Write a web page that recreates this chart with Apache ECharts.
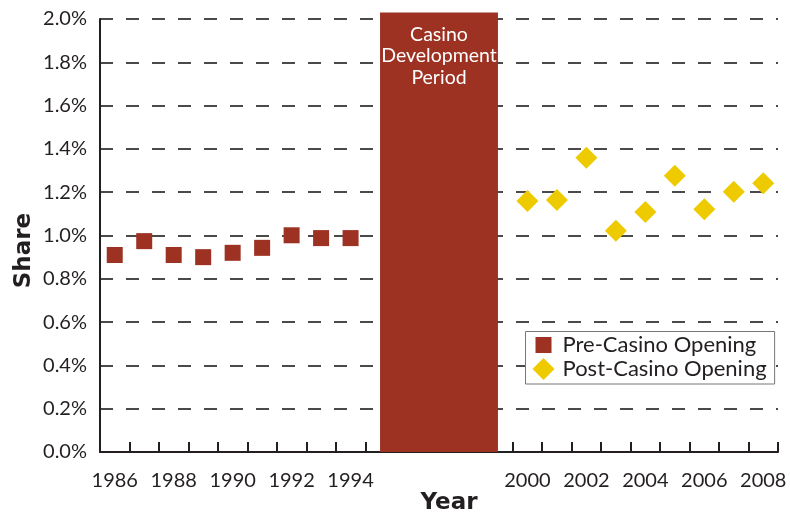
<!DOCTYPE html>
<html><head><meta charset="utf-8">
<script src="https://cdn.jsdelivr.net/npm/echarts@6/dist/echarts.min.js"></script>
<style>html,body{margin:0;padding:0;background:#fff}#c{width:790px;height:512px}</style>
</head><body><div id="c"></div>
<script>
const years = ['1986','1987','1988','1989','1990','1991','1992','1993','1994','1995','1996','1997','1998','1999','2000','2001','2002','2003','2004','2005','2006','2007','2008'];
const xTickLabels = ['1986','1988','1990','1992','1994','2000','2002','2004','2006','2008'];
const preYears = ['1986','1987','1988','1989','1990','1991','1992','1993','1994'];
const preValues = [0.910, 0.974, 0.910, 0.900, 0.920, 0.943, 1.001, 0.988, 0.988];
const postYears = ['2000','2001','2002','2003','2004','2005','2006','2007','2008'];
const postValues = [1.159, 1.164, 1.359, 1.022, 1.109, 1.276, 1.121, 1.202, 1.241];
const casinoStart = '1995';
const casinoEnd = '1999';
const casinoTop = 2.03;
const casinoLabel = 'Casino\nDevelopment\nPeriod';

const TXT = '#231f20';
const chart = echarts.init(document.getElementById('c'), null, {renderer: 'canvas'});
chart.setOption({
  animation: false,
  backgroundColor: '#fff',
  grid: {left: 100, right: 12, top: 19, bottom: 60, containLabel: false, outerBoundsMode: 'none'},
  xAxis: {
    type: 'category',
    data: years,
    boundaryGap: true,
    name: 'Year',
    nameLocation: 'middle',
    nameGap: 40,
    nameMoveOverlap: false,
    nameTextStyle: {fontFamily: 'DejaVu Sans', fontWeight: 'bold', fontSize: 23, color: TXT, padding: [0, 0, 0, 20]},
    axisLine: {lineStyle: {color: '#231f20', width: 2}},
    axisTick: {show: true, inside: true, length: 10, interval: 0, lineStyle: {color: '#231f20', width: 2}},
    axisLabel: {
      interval: 0, margin: 19, fontFamily: 'Lato', fontSize: 20, color: TXT,
      formatter: v => xTickLabels.includes(v) ? v : ''
    },
    splitLine: {show: false}
  },
  yAxis: {
    type: 'value',
    min: 0, max: 2, interval: 0.2,
    name: 'Share',
    nameLocation: 'middle',
    nameGap: 64,
    nameRotate: 90,
    nameMoveOverlap: false,
    nameTextStyle: {fontFamily: 'DejaVu Sans', fontWeight: 'bold', fontSize: 23, color: TXT, padding: [0, 30, 0, 0]},
    axisLine: {show: true, lineStyle: {color: '#231f20', width: 2}},
    axisTick: {show: false},
    axisLabel: {margin: 13, fontFamily: 'Lato', fontSize: 20, color: TXT, formatter: v => v.toFixed(1) + '%'},
    splitLine: {show: true, lineStyle: {color: '#4a4a4a', width: 2, type: [13, 13], dashOffset: 0}}
  },
  legend: {
    orient: 'vertical',
    left: 525.5, top: 331.5,
    padding: [2.5, 8, 4, 7],
    itemGap: 2, itemWidth: 22, itemHeight: 22,
    backgroundColor: '#fff', borderColor: '#777', borderWidth: 1,
    selectedMode: false,
    textStyle: {fontFamily: 'Lato', fontSize: 22, color: TXT, padding: [0, 0, 0, 3]},
    data: [
      {name: 'Pre-Casino Opening', icon: 'path://M0,0L0.01,0M22,22L21.99,22M3,3L19,3L19,19L3,19Z'},
      {name: 'Post-Casino Opening', icon: 'diamond'}
    ]
  },
  series: [
    {
      type: 'custom',
      name: 'casino',
      silent: true,
      z: 3,
      encode: {x: [0, 1], y: 2},
      data: [[years.indexOf(casinoStart), years.indexOf(casinoEnd), casinoTop]],
      renderItem: function (params, api) {
        const p0 = api.coord([api.value(0), 0]);
        const p1 = api.coord([api.value(1), api.value(2)]);
        return {type: 'group', children: [
          {type: 'rect', shape: {x: p0[0], y: p1[1], width: p1[0] - p0[0], height: p0[1] - p1[1]}, style: {fill: '#9d3122'}},
          {type: 'text', style: {text: casinoLabel, x: (p0[0] + p1[0]) / 2, y: p1[1] + 11, align: 'center', verticalAlign: 'top', fill: '#fff', fontSize: 19.5, fontFamily: 'Lato', lineHeight: 21.5}}
        ]};
      }
    },
    {
      type: 'scatter',
      name: 'Pre-Casino Opening',
      symbol: 'rect',
      symbolSize: 16,
      itemStyle: {color: '#9d3122', opacity: 1},
      data: preYears.map((y, i) => [y, preValues[i]])
    },
    {
      type: 'scatter',
      name: 'Post-Casino Opening',
      symbol: 'diamond',
      symbolSize: 22,
      itemStyle: {color: '#eecb00', opacity: 1},
      data: postYears.map((y, i) => [y, postValues[i]])
    }
  ]
});
</script></body></html>
